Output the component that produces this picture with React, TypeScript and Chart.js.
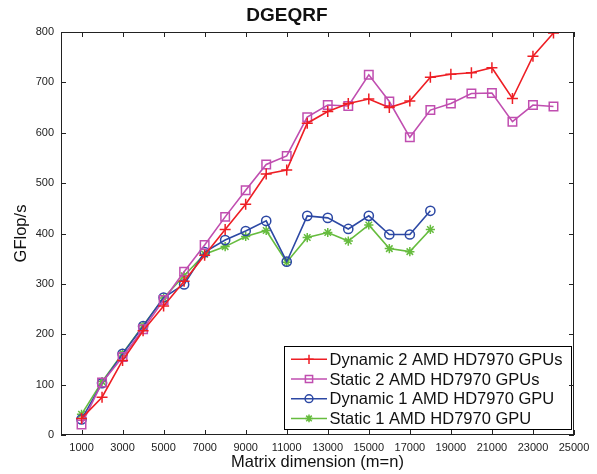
import React, { useEffect, useRef } from "react";
import { Chart, registerables } from "chart.js";

Chart.register(...registerables);

const sizes = [1000, 2000, 3000, 4000, 5000, 6000, 7000, 8000, 9000, 10000, 11000, 12000, 13000, 14000, 15000, 16000, 17000, 18000, 19000, 20000, 21000, 22000, 23000, 24000];
const dynamic2 = [33, 75, 148, 207, 256, 305, 357, 408, 458, 518, 526, 619, 642, 658, 667, 650, 663, 710, 716, 719, 729, 668, 752, 798];
const static2 = [21, 104, 155, 210, 268, 324, 377, 433, 486, 537, 554, 631, 655, 653, 715, 662, 591, 645, 658, 678, 679, 622, 655, 652];
const dynamic1 = [31, 103, 161, 216, 273, 299, 363, 387, 405, 425, 344, 435, 431, 409, 435, 398, 398, 445];
const static1 = [41, 106, 162, 217, 272, 316, 359, 374, 394, 406, 343, 392, 402, 385, 417, 370, 364, 408];

const xTickValues = [1000, 3000, 5000, 7000, 9000, 11000, 13000, 15000, 17000, 19000, 21000, 23000, 25000];
const yTickValues = [0, 100, 200, 300, 400, 500, 600, 700, 800];

const seriesNames = ["Dynamic 2 AMD HD7970 GPUs", "Static 2 AMD HD7970 GPUs", "Dynamic 1 AMD HD7970 GPU", "Static 1 AMD HD7970 GPU"];
const seriesColors = ["rgb(238,30,36)", "rgb(192,78,176)", "rgb(44,72,164)", "rgb(102,188,62)"];
const seriesMarkers = ["cross", "rect", "circle", "star"];
const seriesRadius = [5.5, 6, 4.6, 4.6];

const FONT = "'Liberation Sans', Arial, Helvetica, sans-serif";

function drawMarker(ctx: CanvasRenderingContext2D, style: string, x: number, y: number, r: number) {
  ctx.beginPath();
  if (style === "cross") {
    ctx.moveTo(x - r, y); ctx.lineTo(x + r, y);
    ctx.moveTo(x, y - r); ctx.lineTo(x, y + r);
  } else if (style === "rect") {
    const s = r * Math.SQRT1_2;
    ctx.rect(x - s, y - s, 2 * s, 2 * s);
  } else if (style === "circle") {
    ctx.arc(x, y, r, 0, Math.PI * 2);
  } else if (style === "star") {
    ctx.moveTo(x - r, y); ctx.lineTo(x + r, y);
    ctx.moveTo(x, y - r); ctx.lineTo(x, y + r);
    const d = r * Math.SQRT1_2;
    ctx.moveTo(x - d, y - d); ctx.lineTo(x + d, y + d);
    ctx.moveTo(x - d, y + d); ctx.lineTo(x + d, y - d);
  }
  ctx.stroke();
}

const framePlugin = {
  id: "frameAndLegend",
  afterDatasetsDraw(chart: any) {
    const ctx: CanvasRenderingContext2D = chart.ctx;
    const { left, right, top, bottom } = chart.chartArea;
    const xs = chart.scales.x;
    const ys = chart.scales.y;
    ctx.save();
    // legend box
    const lx0 = 284, ly0 = 346, lx1 = 572, ly1 = 430;
    ctx.fillStyle = "#fff";
    ctx.fillRect(lx0, ly0, lx1 - lx0, ly1 - ly0);
    ctx.strokeStyle = "#000";
    ctx.lineWidth = 1;
    ctx.strokeRect(lx0 + 0.5, ly0 + 0.5, lx1 - lx0 - 1, ly1 - ly0 - 1);
    ctx.font = `16.5px ${FONT}`;
    ctx.textBaseline = "middle";
    ctx.textAlign = "left";
    for (let i = 0; i < seriesNames.length; i++) {
      const ry = 359.3 + i * 19.7;
      ctx.strokeStyle = seriesColors[i];
      ctx.lineWidth = 1.5;
      ctx.beginPath();
      ctx.moveTo(291, ry); ctx.lineTo(327, ry);
      ctx.stroke();
      drawMarker(ctx, seriesMarkers[i], 309, ry, seriesRadius[i] * 0.85);
      ctx.fillStyle = "#111";
      ctx.fillText(seriesNames[i], 329.5, ry + 1);
    }
    // frame
    ctx.strokeStyle = "#222";
    ctx.lineWidth = 1;
    ctx.strokeRect(left + 0.5, top + 0.5, right - left - 1, bottom - top - 1);
    const tl = 5;
    ctx.beginPath();
    for (const v of xTickValues) {
      const px = Math.round(xs.getPixelForValue(v)) + 0.5;
      ctx.moveTo(px, bottom); ctx.lineTo(px, bottom - tl);
      ctx.moveTo(px, top); ctx.lineTo(px, top + tl);
    }
    for (const v of yTickValues) {
      const py = Math.round(ys.getPixelForValue(v)) + 0.5;
      ctx.moveTo(left, py); ctx.lineTo(left + tl, py);
      ctx.moveTo(right, py); ctx.lineTo(right - tl, py);
    }
    ctx.stroke();
    ctx.restore();
  },
};

export default function App() {
  const ref = useRef<HTMLCanvasElement>(null);
  useEffect(() => {
    if (!ref.current) return;
    const allSeries = [dynamic2, static2, dynamic1, static1];
    const chart = new Chart(ref.current, {
      type: "line",
      data: {
        datasets: allSeries.map((vals, i) => ({
          label: seriesNames[i],
          data: vals.map((v, j) => ({ x: sizes[j], y: v })),
          borderColor: seriesColors[i],
          backgroundColor: "rgba(0,0,0,0)",
          pointBackgroundColor: "rgba(0,0,0,0)",
          pointBorderColor: seriesColors[i],
          pointStyle: seriesMarkers[i] as any,
          pointRadius: seriesRadius[i],
          pointBorderWidth: 1.5,
          borderWidth: 1.6,
          tension: 0,
          order: i,
        })),
      },
      options: {
        responsive: false,
        animation: false,
        layout: { padding: { top: 0, left: 0, right: 23, bottom: 0 } },
        plugins: {
          legend: { display: false },
          tooltip: { enabled: false },
          title: {
            display: true,
            text: "DGEQRF",
            color: "#111",
            font: { family: FONT, size: 19, weight: "bold" },
            padding: { top: 3.9, bottom: 5.3 },
          },
        },
        scales: {
          x: {
            type: "linear",
            min: 0,
            max: 25000,
            afterBuildTicks: (scale: any) => {
              scale.ticks = xTickValues.map((v) => ({ value: v }));
            },
            afterFit: (scale: any) => {
              scale.height = 39;
            },
            grid: { display: false, drawTicks: false },
            border: { display: false },
            ticks: {
              autoSkip: false,
              maxRotation: 0,
              color: "#222",
              padding: 6,
              font: { family: FONT, size: 11 },
              callback: (v: any) => String(v),
            },
            title: {
              display: true,
              text: "Matrix dimension (m=n)",
              color: "#111",
              font: { family: FONT, size: 16.5 },
              padding: { top: 0, bottom: 2 },
            },
          },
          y: {
            type: "linear",
            min: 0,
            max: 800,
            afterBuildTicks: (scale: any) => {
              scale.ticks = yTickValues.map((v) => ({ value: v }));
            },
            afterFit: (scale: any) => {
              scale.width = 61;
            },
            grid: { display: false, drawTicks: false },
            border: { display: false },
            ticks: {
              color: "#222",
              padding: 7,
              font: { family: FONT, size: 11 },
              callback: (v: any) => String(v),
            },
            title: {
              display: true,
              text: "GFlop/s",
              color: "#111",
              font: { family: FONT, size: 16.5 },
              padding: { top: 12, bottom: 0 },
            },
          },
        },
      },
      plugins: [framePlugin],
    });
    return () => chart.destroy();
  }, []);
  return (
    <div style={{ position: "absolute", left: 0, top: 0, width: 597, height: 474, background: "#fff" }}>
      <canvas ref={ref} width={597} height={474} style={{ display: "block" }} />
    </div>
  );
}
